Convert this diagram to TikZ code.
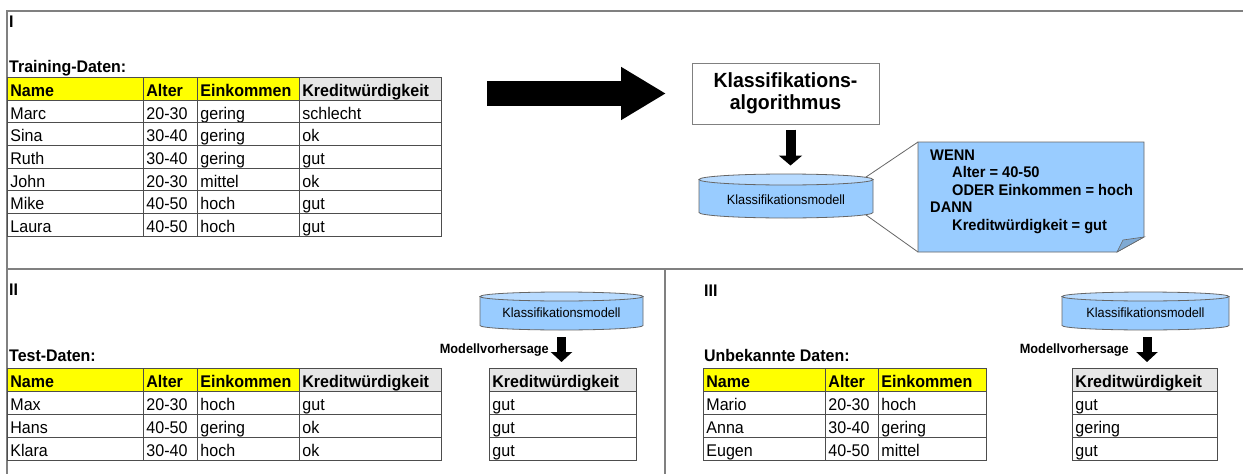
\documentclass[tikz,border=0pt]{standalone}
\usepackage{fontspec}
\setmainfont{Liberation Sans}[FakeStretch=0.95]
\usetikzlibrary{arrows.meta}

\definecolor{tline}{HTML}{4D4D4D}
\definecolor{framegray}{HTML}{808080}
\definecolor{hiyellow}{HTML}{FFFF00}
\definecolor{higray}{HTML}{E6E6E6}
\definecolor{cylblue}{HTML}{99CCFF}
\definecolor{cyltop}{HTML}{B8DBFF}
\definecolor{cylline}{HTML}{666666}
\definecolor{folddark}{HTML}{7FAAD4}

\newcommand{\tabfont}{\fontsize{16.9}{19}\selectfont}
\newcommand{\tabbold}{\fontsize{16.9}{19}\selectfont\bfseries}
\newcommand{\labelfont}{\fontsize{16.8}{19}\selectfont\bfseries}
\newcommand{\smallfont}{\fontsize{13.4}{15}\selectfont}
\newcommand{\smallbold}{\fontsize{13.4}{15}\selectfont\bfseries}

% cylinder: name, cx, top centre y, bottom centre y, half width, ry, text y
\newcommand{\modelcyl}[7]{%
  \filldraw[cylline, line width=0.8pt, fill=cylblue]
    ({#2-#5},#3) -- ({#2-#5},#4)
    arc[start angle=180, end angle=360, x radius=#5pt, y radius=#6pt]
    -- ({#2+#5},#3) -- cycle;
  \filldraw[cylline, line width=0.8pt, fill=cyltop]
    (#2,#3) ellipse[x radius=#5pt, y radius=#6pt];
  \coordinate (#1-top) at (#2,{#3+#6});
  \coordinate (#1-bot) at (#2,{#4-#6});
  \node[font=\smallfont, inner sep=0pt] (#1) at (#2,#7) {Klassifikationsmodell};
}

\tikzset{
  frame/.style={draw=framegray, line width=1.6pt},
  cellbase/.style={draw=tline, line width=0.8pt, anchor=north west,
    inner xsep=3pt, inner ysep=0pt, text depth=3.5pt, align=left, font=\tabfont},
  cellA/.style={cellbase, text height=19.16pt},
  cellB/.style={cellbase, text height=19.5pt},
  yelA/.style={cellA, fill=hiyellow, font=\tabbold},
  gryA/.style={cellA, fill=higray, font=\tabbold},
  yelB/.style={cellB, fill=hiyellow, font=\tabbold},
  gryB/.style={cellB, fill=higray, font=\tabbold},
  seclabel/.style={font=\labelfont, inner sep=0pt, anchor=base west},
  blockarrow/.style={line width=10pt, -{Triangle[length=10pt, width=23pt]}},
  blockarrowsm/.style={line width=9pt, -{Triangle[length=10pt, width=21pt]}},
  bigarrow/.style={line width=25pt, -{Triangle[length=45pt, width=50pt]}},
  callline/.style={draw=cylline, line width=0.8pt},
}

\begin{document}
\begin{tikzpicture}[x=1pt, y=1pt]
  \useasboundingbox (0,0) rectangle (1243,-474);
  \fill[white] (0,0) rectangle (1243,-474);

  % frame of the three panels
  \draw[frame] (7,-474) -- (7,-11) -- (1243,-11);
  \draw[frame] (7,-269) -- (1243,-269);
  \draw[frame] (665,-269) -- (665,-474);

  % ---------------- panel I ----------------
  \node[font=\labelfont, inner sep=0pt, anchor=west] (secI) at (9,-21.5) {I};
  \node[seclabel] (trlabel) at (9,-72) {Training-Daten:};

  \node[yelA, text width=130pt] (tr-h1) at (7,-77) {Name};
  \node[yelA, text width=48pt]  (tr-h2) at (143,-77) {Alter};
  \node[yelA, text width=96pt]  (tr-h3) at (197,-77) {Einkommen};
  \node[gryA, text width=136pt] (tr-h4) at (299,-77) {Kreditwürdigkeit};
  \foreach \na/\al/\ei/\kr [count=\i] in {Marc/20-30/gering/schlecht,Sina/30-40/gering/ok,Ruth/30-40/gering/gut,John/20-30/mittel/ok,Mike/40-50/hoch/gut,Laura/40-50/hoch/gut}{
    \node[cellA, text width=130pt] (tr-\i-1) at (7,{-77-22.66*\i}) {\na};
    \node[cellA, text width=48pt]  (tr-\i-2) at (143,{-77-22.66*\i}) {\al};
    \node[cellA, text width=96pt]  (tr-\i-3) at (197,{-77-22.66*\i}) {\ei};
    \node[cellA, text width=136pt] (tr-\i-4) at (299,{-77-22.66*\i}) {\kr};
  }

  % training data into the algorithm
  \coordinate (big-from) at (487,-93.5);
  \coordinate (big-to) at (666,-93.5);
  \draw[bigarrow] (big-from) -- (big-to);

  \node[draw=framegray, line width=1pt, minimum width=187pt, minimum height=61pt,
        align=center, font=\fontsize{20.5}{22}\selectfont\bfseries, inner sep=0pt]
        (algo) at (785.5,-93.5) {Klassifikations-\\algorithmus};

  % rule callout with folded corner
  \coordinate (rule-nw) at (918,-142);
  \coordinate (rule-sw) at (918,-252);
  \coordinate (ptr-a) at (850,-187.8);
  \coordinate (ptr-b) at (850,-203.6);
  \draw[callline] (rule-nw) -- (ptr-a);
  \draw[callline] (rule-sw) -- (ptr-b);
  \filldraw[cylline, line width=0.8pt, fill=cylblue]
    (rule-nw) -- (1144,-142) -- (1144,-237) -- (1117,-252) -- (rule-sw) -- cycle;
  \filldraw[cylline, line width=0.6pt, fill=folddark]
    (1144,-237) -- (1117,-252) -- (1123,-240) -- cycle;
  \node[anchor=north west, inner sep=0pt, align=left,
        font=\fontsize{15.4}{17.5}\selectfont\bfseries] (rule) at (930,-149.5)
    {WENN\\
     \hspace*{22pt}Alter = 40-50\\
     \hspace*{22pt}ODER Einkommen = hoch\\
     DANN\\
     \hspace*{22pt}Kreditwürdigkeit = gut};

  \modelcyl{cyl1}{786}{-179.5}{-212.5}{87}{5.5}{-200}
  \draw[blockarrow] ([xshift=5pt, yshift=-5pt]algo.south) -- ++(0,-36pt);

  % ---------------- panel II ----------------
  \node[font=\labelfont, inner sep=0pt, anchor=west] (secII) at (9,-289.5) {II};
  \node[seclabel] (telabel) at (9,-361) {Test-Daten:};

  \node[yelB, text width=130pt] (te-h1) at (7,-368) {Name};
  \node[yelB, text width=48pt]  (te-h2) at (143,-368) {Alter};
  \node[yelB, text width=96pt]  (te-h3) at (197,-368) {Einkommen};
  \node[gryB, text width=136pt] (te-h4) at (299,-368) {Kreditwürdigkeit};
  \foreach \na/\al/\ei/\kr [count=\i] in {Max/20-30/hoch/gut,Hans/40-50/gering/ok,Klara/30-40/hoch/ok}{
    \node[cellB, text width=130pt] (te-\i-1) at (7,{-368-23*\i}) {\na};
    \node[cellB, text width=48pt]  (te-\i-2) at (143,{-368-23*\i}) {\al};
    \node[cellB, text width=96pt]  (te-\i-3) at (197,{-368-23*\i}) {\ei};
    \node[cellB, text width=136pt] (te-\i-4) at (299,{-368-23*\i}) {\kr};
  }

  \modelcyl{cyl2}{561.5}{-296.5}{-325.5}{81.5}{4.5}{-313}
  \node[font=\smallbold, inner sep=0pt, anchor=east] (mv2) at (549,-350) {Modellvorhersage};
  \draw[blockarrowsm] ([yshift=-7pt]cyl2-bot) -- ++(0,-25pt);

  \node[gryB, text width=141pt] (p2-h) at (489,-368) {Kreditwürdigkeit};
  \foreach \kr [count=\i] in {gut,gut,gut}{
    \node[cellB, text width=141pt] (p2-\i) at (489,{-368-23*\i}) {\kr};
  }

  % ---------------- panel III ----------------
  \node[font=\labelfont, inner sep=0pt, anchor=west] (secIII) at (704,-290.5) {III};
  \node[seclabel] (unlabel) at (704,-361.5) {Unbekannte Daten:};

  \node[yelB, text width=116pt] (un-h1) at (703,-368) {Name};
  \node[yelB, text width=47pt]  (un-h2) at (825,-368) {Alter};
  \node[yelB, text width=102pt] (un-h3) at (878,-368) {Einkommen};
  \foreach \na/\al/\ei [count=\i] in {Mario/20-30/hoch,Anna/30-40/gering,Eugen/40-50/mittel}{
    \node[cellB, text width=116pt] (un-\i-1) at (703,{-368-23*\i}) {\na};
    \node[cellB, text width=47pt]  (un-\i-2) at (825,{-368-23*\i}) {\al};
    \node[cellB, text width=102pt] (un-\i-3) at (878,{-368-23*\i}) {\ei};
  }

  \modelcyl{cyl3}{1145.5}{-296.5}{-325.5}{83.5}{4.5}{-313}
  \node[font=\smallbold, inner sep=0pt, anchor=east] (mv3) at (1129,-350) {Modellvorhersage};
  \draw[blockarrowsm] ([xshift=1.5pt, yshift=-7pt]cyl3-bot) -- ++(0,-25pt);

  \node[gryB, text width=139pt] (p3-h) at (1072,-368) {Kreditwürdigkeit};
  \foreach \kr [count=\i] in {gut,gering,gut}{
    \node[cellB, text width=139pt] (p3-\i) at (1072,{-368-23*\i}) {\kr};
  }
\end{tikzpicture}
\end{document}
